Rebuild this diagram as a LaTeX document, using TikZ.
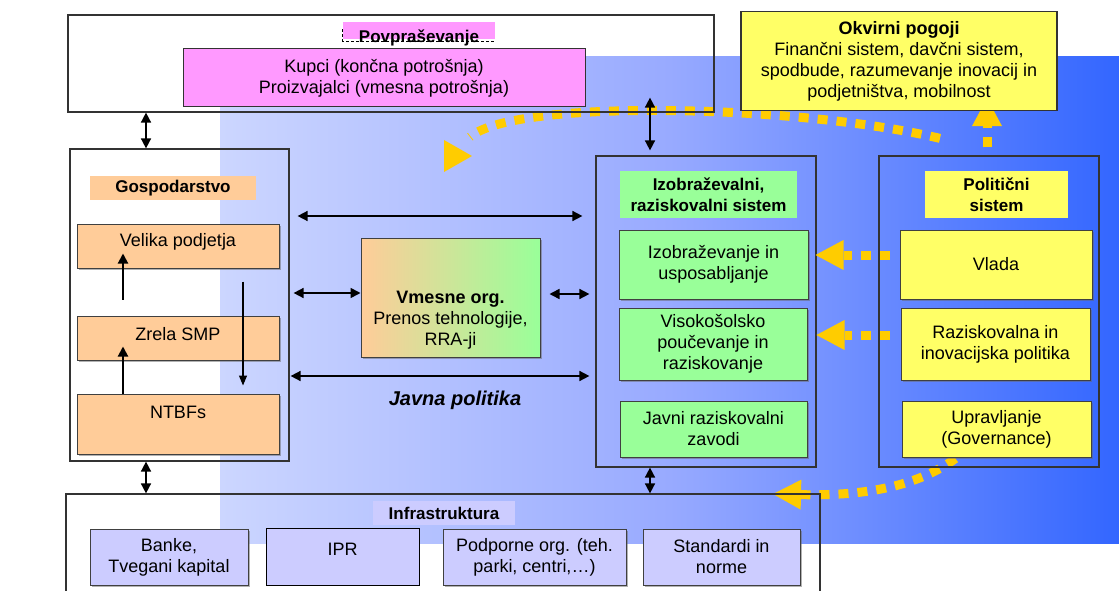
\documentclass[tikz,border=0pt]{standalone}
\usepackage{fontspec}
\setmainfont{Liberation Sans}
\usepackage{tikz}
\usetikzlibrary{arrows.meta, shadows, backgrounds}
\definecolor{pinkfill}{HTML}{FF99FF}
\definecolor{orangefill}{HTML}{FFCC99}
\definecolor{greenfill}{HTML}{99FF99}
\definecolor{yellowfill}{HTML}{FFFF66}
\definecolor{lilacfill}{HTML}{CCCCFF}
\definecolor{bluelight}{HTML}{CCD6FF}
\definecolor{bluemid}{HTML}{98AAFF}
\definecolor{bluedark}{HTML}{3366FF}
\definecolor{dotyellow}{HTML}{FFCC00}
\tikzstyle{outer} = [rectangle, draw=black!80, line width=1.2pt]
\tikzstyle{head} = [rectangle, align=center, inner sep=0pt, font=\fontsize{17}{21}\selectfont\bfseries]
\tikzstyle{sub} = [rectangle, draw=black!75, line width=1pt, align=center, inner sep=0pt, drop shadow={shadow xshift=1.5pt, shadow yshift=-1.5pt, fill=black!60}]
\tikzstyle{orgbox} = [sub, fill=orangefill]
\tikzstyle{edubox} = [sub, fill=greenfill]
\tikzstyle{polbox} = [sub, fill=yellowfill]
\tikzstyle{infbox} = [sub, fill=lilacfill]
\tikzstyle{toptext} = [anchor=north, inner sep=0pt, align=center]
\tikzstyle{arrow} = [line width=1.6pt, <->, >={Triangle[length=10pt,width=10pt]}]
\tikzstyle{uparrow} = [line width=2pt, ->, >={Triangle[length=10pt,width=10pt]}]
\tikzstyle{downarrow} = [line width=1.2pt, ->, >={Triangle[length=10pt,width=8pt]}]
\tikzstyle{dotline} = [draw=dotyellow, line width=9pt, dash pattern=on 10pt off 9pt]
\tikzstyle{dotarrow} = [dotline, -{Triangle[length=28pt,width=30pt,line width=0pt]}]

\begin{document}
\begin{tikzpicture}[x=1pt, y=-1pt, font=\fontsize{18}{21}\selectfont]
\useasboundingbox (0,0) rectangle (1119,591);

% demand
\node (dem) [outer, minimum width=646, minimum height=97] at (391,63.5) {};
\node (demlbl) [head, fill=pinkfill, minimum width=152, minimum height=17, label={[toptext, font=\fontsize{17}{21}\selectfont\bfseries, yshift=-8pt]north:Povpraševanje}] at (419,30.5) {};
\draw [densely dashed, line width=0.8pt] ([yshift=1pt]demlbl.west) |- ([yshift=-2pt]demlbl.south east);
\node (kupci) [rectangle, draw=black!80, line width=1pt, fill=pinkfill, align=center, minimum width=402, minimum height=58] at (384,78) {Kupci (končna potrošnja)\\Proizvajalci (vmesna potrošnja)};
\node (okv) [rectangle, draw=black!80, line width=1.2pt, fill=yellowfill, align=center, minimum width=316, minimum height=99] at (899,61) {\textbf{Okvirni pogoji}\\Finančni sistem, davčni sistem,\\spodbude, razumevanje inovacij in\\podjetništva, mobilnost};

% economy
\node (gosp) [outer, minimum width=219, minimum height=312] at (179.5,305) {};
\node (gosplbl) [head, fill=orangefill, minimum width=166, minimum height=24] at (173,188) {Gospodarstvo};
\node (velika) [orgbox, minimum width=202, minimum height=44, label={[toptext, yshift=-10pt]north:Velika podjetja}] at (178,246) {};
\node (zrela) [orgbox, minimum width=202, minimum height=44, label={[toptext, yshift=-12pt]north:Zrela SMP}] at (178,338) {};
\node (ntbf) [orgbox, minimum width=202, minimum height=60, label={[toptext, yshift=-12pt]north:NTBFs}] at (178,424) {};

% intermediaries
\node (vmes) [sub, left color=orangefill, right color=greenfill, minimum width=179, minimum height=119, label={[toptext, yshift=-53pt]north:{\textbf{Vmesne org.}\\Prenos tehnologije,\\RRA-ji}}] at (450.5,297.5) {};
\node (javna) [font=\fontsize{20}{24}\selectfont\bfseries\itshape] at (455,400) {Javna politika};

% education and research
\node (izo) [outer, minimum width=220, minimum height=311] at (706,311.5) {};
\node (izolbl) [head, fill=greenfill, minimum width=177, minimum height=47] at (708.5,194.5) {Izobraževalni,\\raziskovalni sistem};
\node (izob) [edubox, minimum width=189, minimum height=69] at (713.5,264.5) {Izobraževanje in\\usposabljanje};
\node (viso) [edubox, minimum width=188, minimum height=72] at (713,344) {Visokošolsko\\poučevanje in\\raziskovanje};
\node (javni) [edubox, minimum width=187, minimum height=56] at (713.5,429) {Javni raziskovalni\\zavodi};

% political system
\node (pol) [outer, minimum width=220, minimum height=311] at (989,311.5) {};
\node (pollbl) [head, fill=yellowfill, minimum width=143, minimum height=47] at (996.5,194.5) {Politični\\sistem};
\node (vlada) [polbox, minimum width=192, minimum height=69] at (996,264.5) {Vlada};
\node (raz) [polbox, minimum width=189, minimum height=72] at (995.5,344) {Raziskovalna in\\inovacijska politika};
\node (upr) [polbox, minimum width=189, minimum height=56] at (996.5,429) {Upravljanje\\(Governance)};

% infrastructure
\node (infra) [outer, minimum width=754, minimum height=110] at (443,549) {};
\node (infralbl) [head, fill=lilacfill, minimum width=142, minimum height=24] at (444,513) {Infrastruktura};
\node (banke) [infbox, minimum width=158, minimum height=56] at (169,557) {Banke,\\Tvegani kapital};
\node (ipr) [rectangle, draw=black, line width=1pt, fill=lilacfill, minimum width=153, minimum height=57, label={[toptext, yshift=-15pt]north:IPR}] at (342.5,556.5) {};
\node (podp) [infbox, minimum width=183, minimum height=56] at (534.5,557) {Podporne org. (teh.\\parki, centri,…)};
\node (stand) [infbox, minimum width=157, minimum height=56] at (721.5,557) {Standardi in\\norme};

\coordinate (arcend) at (470,137);
\coordinate (arctip) at (472,156);
\coordinate (govtip) at (773,494);

\begin{pgfonlayer}{background}
\shade [left color=bluelight, right color=bluedark, middle color=bluemid] (220,57) rectangle (1119,543);
\draw [dotline] ([xshift=-49pt,yshift=17pt]pol.north) .. controls (800,105) and (515,98) .. (arcend);
\fill [dotyellow] (arctip) -- ++(-28,-16) -- ++(0,32) -- cycle;
\draw [dotarrow] ([xshift=-2pt,yshift=8pt]pol.north) -- ([xshift=-2pt,yshift=13pt]pol.north |- okv.south);
\draw [dotarrow] ([xshift=-41pt,yshift=-1pt]upr.south) .. controls (915,488) and (860,496) .. (govtip);
\end{pgfonlayer}

\draw [dotarrow] ([xshift=-10pt,yshift=9.5pt]vlada.west) -- ([xshift=7pt,yshift=9.5pt]izob.east);
\draw [dotarrow] ([xshift=-11pt,yshift=9pt]raz.west) -- ([xshift=9pt,yshift=9pt]viso.east);

\draw [arrow] ([xshift=-33.5pt]gosp.north) -- ([xshift=-33.5pt]gosp.north |- dem.south);
\draw [arrow] ([xshift=-56pt,yshift=5pt]izo.north) -- ([xshift=-56pt,yshift=15pt]izo.north |- dem.south);
\draw [arrow] ([xshift=-33.5pt]gosp.south) -- ([xshift=-33.5pt]gosp.south |- infra.north);
\draw [arrow] ([xshift=-56pt]izo.south) -- ([xshift=-56pt]izo.south |- infra.north);
\draw [arrow] ([xshift=8pt,yshift=89pt]gosp.east) -- ([xshift=-13pt,yshift=95.5pt]izo.west);
\draw [arrow] ([xshift=4pt,yshift=12pt]gosp.east) -- ([yshift=4.5pt]vmes.west);
\draw [arrow] ([xshift=9pt,yshift=3.5pt]vmes.east) -- ([xshift=-6pt,yshift=17.5pt]izo.west);
\draw [arrow] ([xshift=1pt,yshift=-71pt]gosp.east) -- ([xshift=-6pt,yshift=-64.5pt]izo.west);

\draw [uparrow] ([xshift=-55pt,yshift=16pt]zrela.north) -- ([xshift=-55pt,yshift=15pt]velika.south);
\draw [uparrow] ([xshift=-55pt]ntbf.north) -- ([xshift=-55pt,yshift=14pt]zrela.south);
\draw [downarrow] ([xshift=65pt,yshift=-13pt]velika.south) -- ([xshift=65pt,yshift=8pt]ntbf.north);
\end{tikzpicture}
\end{document}
